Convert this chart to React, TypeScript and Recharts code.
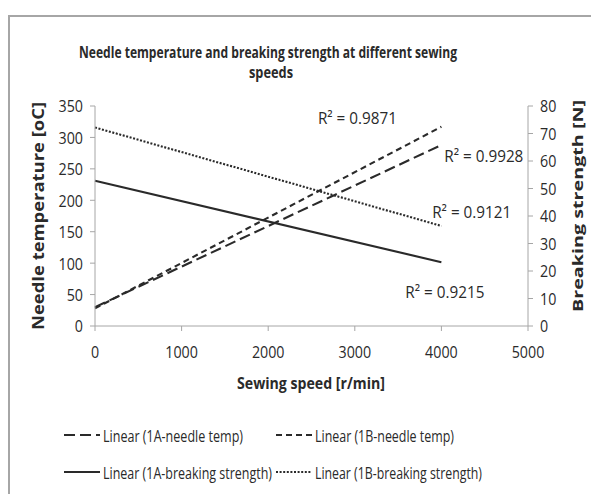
import React from 'react';
import { ComposedChart, Line, XAxis, YAxis, Legend, ReferenceDot } from 'recharts';

// ---- data ----
const speeds = [0, 4000];
const needle1A = [30, 288];
const needle1B = [28, 317];
const strength1A = [52.8, 23.2];
const strength1B = [72.2, 36.4];

const xTicks = [0, 1000, 2000, 3000, 4000, 5000];
const leftTicks = [0, 50, 100, 150, 200, 250, 300, 350];
const rightTicks = [0, 10, 20, 30, 40, 50, 60, 70, 80];

const seriesKeys = ['n1A', 'n1B', 's1A', 's1B'];
const seriesNames = [
  'Linear (1A-needle temp)',
  'Linear (1B-needle temp)',
  'Linear (1A-breaking strength)',
  'Linear (1B-breaking strength)',
];
const seriesAxis = ['left', 'left', 'right', 'right'];
const seriesDash = ['11 5', '6 4', undefined, '2 1.6'];

const r2Texts = ['R² = 0.9871', 'R² = 0.9928', 'R² = 0.9121', 'R² = 0.9215'];
const r2AnchorSpeed = [3030, 4490, 4350, 4040];
const r2AnchorValue = [332, 272, 181.5, 55.5];

const title1 = 'Needle temperature and breaking strength at different sewing';
const title2 = 'speeds';
const xTitle = 'Sewing speed [r/min]';
const yLeftTitle = 'Needle temperature [oC]';
const yRightTitle = 'Breaking strength [N]';

const rows = speeds.map((s, i) => ({
  speed: s,
  n1A: needle1A[i],
  n1B: needle1B[i],
  s1A: strength1A[i],
  s1B: strength1B[i],
}));

const FONT = "'Open Sans', sans-serif";
const INK = '#2a2a2a';
const AXIS = '#a6a6a6';
const SX = 0.84;

const legendCols = [64, 276];
const legendRows = [15, 52];
const legendLens = [140, 139, 169, 167];

const XTick = (p: any) => (
  <text
    transform={`translate(${p.x},${p.y}) scale(${SX},1)`}
    x={0}
    y={0}
    dy="0.71em"
    textAnchor="middle"
    fontFamily={FONT}
    fontSize={17}
    fill={INK}
  >
    {p.payload.value}
  </text>
);

const YTick = (p: any) => (
  <text
    transform={`translate(${p.x},${p.y}) scale(${SX},1)`}
    x={0}
    y={0}
    dominantBaseline="central"
    textAnchor={p.orientation === 'right' ? 'start' : 'end'}
    fontFamily={FONT}
    fontSize={17}
    fill={INK}
  >
    {p.payload.value}
  </text>
);

const R2Label = (p: any) => {
  const vb = p.viewBox || {};
  return (
    <text
      x={vb.x + (vb.width || 0) / 2}
      y={vb.y + (vb.height || 0) / 2}
      textAnchor="middle"
      dominantBaseline="central"
      fontFamily={FONT}
      fontSize={16.5}
      fill={INK}
      textLength={79}
      lengthAdjust="spacingAndGlyphs"
    >
      {p.value}
    </text>
  );
};

const LegendContent = (props: any) => {
  const payload = props.payload || [];
  return (
    <svg width={591} height={70} style={{ display: 'block' }}>
      {payload.map((entry: any) => {
        const idx = seriesNames.indexOf(entry.value);
        if (idx < 0) return null;
        const x = legendCols[idx % 2];
        const y = legendRows[Math.floor(idx / 2)];
        return (
          <g key={entry.value}>
            <line
              x1={x}
              x2={x + 36}
              y1={y}
              y2={y}
              stroke={INK}
              strokeWidth={2}
              strokeDasharray={seriesDash[idx]}
            />
            <text
              x={x + 39}
              y={y}
              dominantBaseline="central"
              fontFamily={FONT}
              fontSize={16.5}
              fill={INK}
              textLength={legendLens[idx]}
              lengthAdjust="spacingAndGlyphs"
            >
              {entry.value}
            </text>
          </g>
        );
      })}
    </svg>
  );
};

export default function App() {
  return (
    <div style={{ position: 'relative', width: 591, height: 494, overflow: 'hidden', background: '#fff' }}>
      <style>{'body{margin:0;overflow:hidden}'}</style>
      <div
        style={{
          position: 'absolute',
          left: 8,
          top: 15,
          width: 620,
          height: 520,
          borderLeft: `2px solid ${AXIS}`,
          borderTop: `2px solid ${AXIS}`,
          boxSizing: 'border-box',
        }}
      />
      <div style={{ position: 'absolute', left: 0, top: 0 }}>
        <ComposedChart
          width={591}
          height={494}
          data={rows}
          margin={{ top: 106, right: 23, bottom: 138, left: 55 }}
        >
          <XAxis
            dataKey="speed"
            type="number"
            domain={[0, 5000]}
            ticks={xTicks}
            height={30}
            tickSize={5}
            tickMargin={15}
            axisLine={{ stroke: AXIS }}
            tickLine={{ stroke: AXIS }}
            tick={<XTick />}
          />
          <YAxis
            yAxisId="left"
            orientation="left"
            domain={[0, 350]}
            ticks={leftTicks}
            width={40}
            tickSize={5}
            tickMargin={7}
            axisLine={{ stroke: AXIS }}
            tickLine={{ stroke: AXIS }}
            tick={<YTick orientation="left" />}
          />
          <YAxis
            yAxisId="right"
            orientation="right"
            domain={[0, 80]}
            ticks={rightTicks}
            width={40}
            tickSize={5}
            tickMargin={7}
            axisLine={{ stroke: AXIS }}
            tickLine={{ stroke: AXIS }}
            tick={<YTick orientation="right" />}
          />
          {seriesKeys.map((k, i) => (
            <Line
              key={k}
              dataKey={k}
              name={seriesNames[i]}
              yAxisId={seriesAxis[i]}
              type="linear"
              stroke={INK}
              strokeWidth={2.1}
              strokeDasharray={seriesDash[i]}
              dot={false}
              activeDot={false}
              isAnimationActive={false}
            />
          ))}
          {r2Texts.map((t, i) => (
            <ReferenceDot
              key={t}
              yAxisId="left"
              x={r2AnchorSpeed[i]}
              y={r2AnchorValue[i]}
              r={0}
              stroke="none"
              fill="none"
              label={<R2Label value={t} />}
            />
          ))}
          <Legend
            layout="vertical"
            align="center"
            verticalAlign="middle"
            wrapperStyle={{ left: 0, top: 420, width: 591, height: 70 }}
            content={<LegendContent />}
          />
        </ComposedChart>
      </div>
      <svg
        width={591}
        height={494}
        style={{ position: 'absolute', left: 0, top: 0, pointerEvents: 'none' }}
      >
        <text x={268} y={58} textAnchor="middle" fontFamily={FONT} fontWeight="bold" fontSize={16} fill={INK} textLength={378} lengthAdjust="spacingAndGlyphs">
          {title1}
        </text>
        <text x={271} y={78} textAnchor="middle" fontFamily={FONT} fontWeight="bold" fontSize={16} fill={INK} textLength={44} lengthAdjust="spacingAndGlyphs">
          {title2}
        </text>
        <text x={311} y={389} textAnchor="middle" fontFamily={FONT} fontWeight="bold" fontSize={16} fill={INK} textLength={148} lengthAdjust="spacingAndGlyphs">
          {xTitle}
        </text>
        <text x={0} y={0} transform="translate(38,216) rotate(-90)" textAnchor="middle" dominantBaseline="central" fontFamily={FONT} fontWeight="bold" fontSize={16} fill={INK} textLength={228} lengthAdjust="spacingAndGlyphs">
          {yLeftTitle}
        </text>
        <text x={0} y={0} transform="translate(577,206) rotate(-90)" textAnchor="middle" dominantBaseline="central" fontFamily={FONT} fontWeight="bold" fontSize={15} fill={INK} textLength={212} lengthAdjust="spacingAndGlyphs">
          {yRightTitle}
        </text>
      </svg>
    </div>
  );
}
